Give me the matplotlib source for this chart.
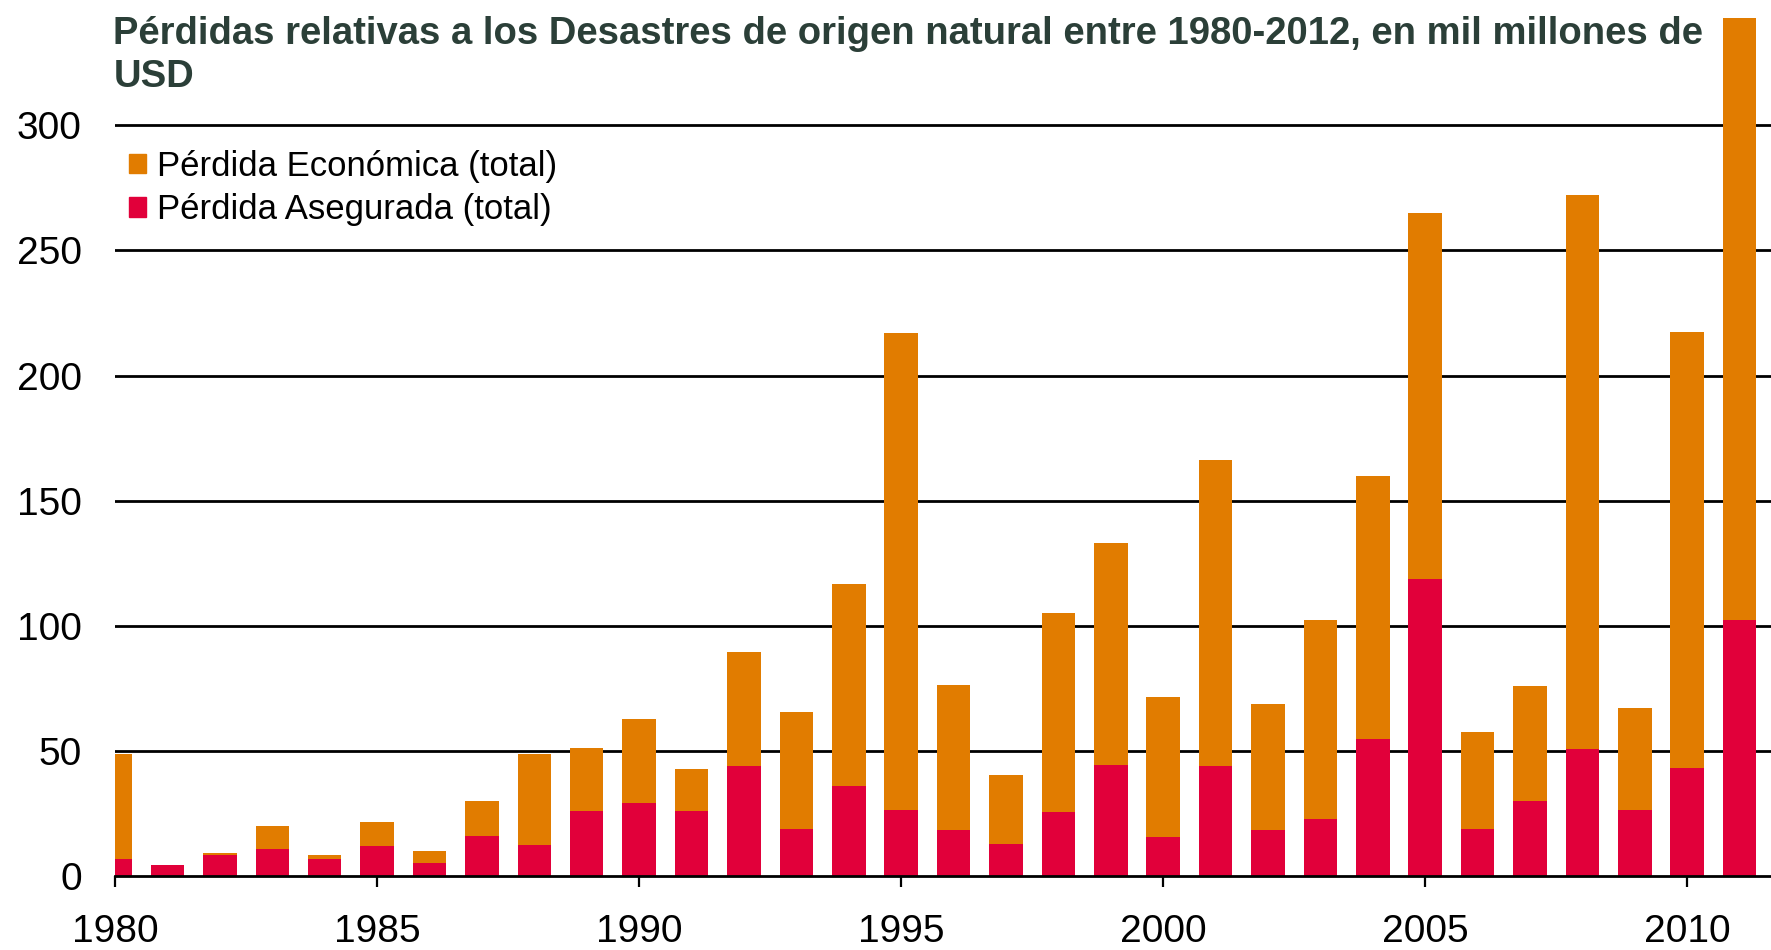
import numpy as np
import matplotlib.pyplot as plt
from matplotlib.patches import Patch

years = list(range(1980, 2012))
economic = [48.8, 4.5, 9.5, 20, 8.6, 21.7, 10, 30, 49, 51.5, 63, 43, 89.5, 65.5, 116.6, 217,
            76.4, 40.7, 105.3, 133.3, 71.8, 166.3, 68.7, 102.6, 160, 264.8, 57.8, 76, 272, 67.3,
            217.4, 343]
insured = [7, 4.5, 8.6, 11, 7, 12, 5.5, 16, 12.6, 26, 29.4, 26, 44.3, 19, 36, 26.7,
           18.5, 13, 25.8, 44.7, 15.8, 44.3, 18.5, 23, 55, 118.8, 19, 30.3, 51, 26.7,
           43.4, 102.6]
labels = ['Pérdida Económica (total)', 'Pérdida Asegurada (total)']
title = 'Pérdidas relativas a los Desastres de origen natural entre 1980-2012, en mil millones de\nUSD'

orange = '#E17C00'
red = '#E1003A'

plt.rcParams['font.family'] = ['Liberation Sans', 'DejaVu Sans']

fig = plt.figure(figsize=(17.71, 9.5), dpi=100)
ax = fig.add_axes([0.065, 0.0774, 0.935, 0.9226])

ax.bar(years, economic, width=0.64, color=orange, zorder=3)
ax.bar(years, insured, width=0.64, color=red, zorder=4)

ax.set_xlim(1980, 2011.6)
ax.set_ylim(0, 350)
ax.set_yticks(range(0, 301, 50))
ax.set_xticks(range(1980, 2011, 5))

for y in range(50, 301, 50):
    ax.axhline(y, color='black', lw=2, zorder=2)

for s in ['top', 'right', 'left']:
    ax.spines[s].set_visible(False)
ax.spines['bottom'].set_linewidth(2)
ax.spines['bottom'].set_zorder(5)

ax.tick_params(axis='y', length=0, pad=24, labelsize=28)
ax.tick_params(axis='x', length=8, width=1.6, direction='out', pad=19, labelsize=28)

fig.text(0.064, 0.983, title, ha='left', va='top', fontsize=27.5, fontweight='bold',
         color='#2B3F38', linespacing=1.25)

handles = [Patch(color=orange), Patch(color=red)]
ax.legend(handles, labels, loc='upper left', bbox_to_anchor=(0.0, 0.845), frameon=False,
          fontsize=25, handlelength=0.5, handleheight=0.5, handletextpad=0.3,
          labelspacing=0.3, borderaxespad=0)

fig.savefig('out.png', dpi=100)
